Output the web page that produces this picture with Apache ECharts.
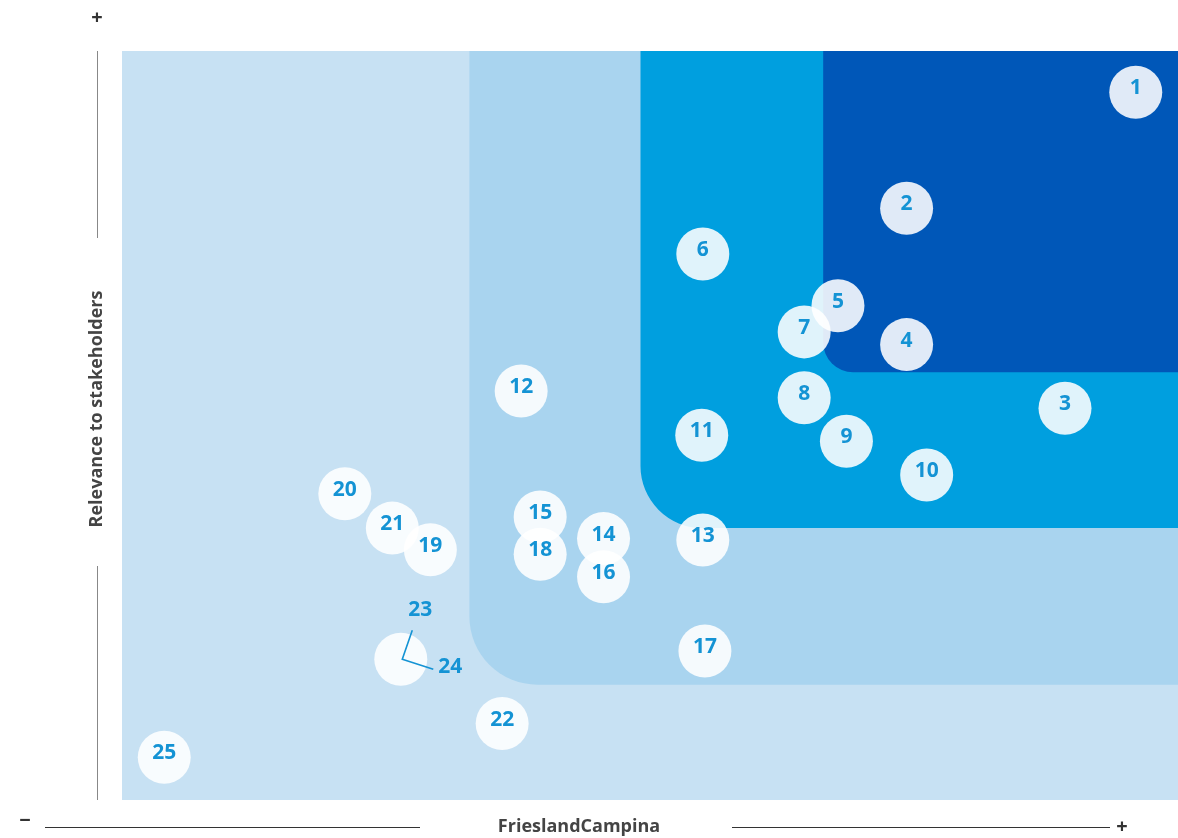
<!DOCTYPE html>
<html>
<head>
<meta charset="utf-8">
<script src="https://cdn.jsdelivr.net/npm/echarts@6/dist/echarts.min.js"></script>
<style>
html,body{margin:0;padding:0;background:#fff;}
#chart{width:1178px;height:838px;}
</style>
</head>
<body>
<div id="chart"></div>
<script>
// Topic numbers and positions (0-100 scales)
var topics = ['1','2','3','4','5','6','7','8','9','10','11','12','13','14','15','16','17','18','19','20','21','22','23/24','25'];
var impactX = [96.0,74.3,89.3,74.3,67.8,55.0,64.6,64.6,68.6,76.2,54.9,37.8,55.0,45.6,39.6,45.6,55.2,39.6,29.2,21.1,25.6,36.0,26.4,4.0];
var relevanceY = [94.5,79.0,52.3,60.8,66.0,72.9,62.5,53.7,47.9,43.4,48.7,54.6,34.7,34.9,37.8,29.8,19.9,32.8,33.4,40.9,36.3,10.2,18.8,5.7];

// Background zones: left edge and bottom edge (zones extend to top-right corner)
var zoneX0 = [0, 32.9, 49.1, 66.4];
var zoneY0 = [0, 15.4, 36.3, 57.1];
var zoneColors = ['#c7e1f3', '#a9d4ef', '#009fdf', '#0057b8'];
var zoneRadius = [0, 68, 62, 30];

// Shared-circle labels
var sharedLabels = ['23', '24'];

var chart = echarts.init(document.getElementById('chart'));
var numColor = '#1493d4';
var font = '"Open Sans", "Noto Sans", sans-serif';

var circleData = [];
for (var i = 0; i < topics.length; i++) {
  circleData.push({ name: topics[i], value: [impactX[i], relevanceY[i]], label: { show: topics[i] !== '23/24' } });
}
var zoneData = zoneX0.map(function (x, i) { return [x, zoneY0[i], i]; });
var sharedIdx = topics.indexOf('23/24');

var option = {
  animation: false,
  grid: { left: 122, right: 0, top: 51, bottom: 38 },
  xAxis: { type: 'value', min: 0, max: 100, show: false },
  yAxis: { type: 'value', min: 0, max: 100, show: false },
  series: [
    {
      type: 'custom',
      z: 1,
      silent: true,
      data: zoneData,
      renderItem: function (params, api) {
        var i = api.value(2);
        var p0 = api.coord([api.value(0), api.value(1)]);
        var p1 = api.coord([100, 100]);
        var r = zoneRadius[i];
        return {
          type: 'rect',
          shape: { x: p0[0], y: p1[1], width: p1[0] - p0[0], height: p0[1] - p1[1], r: [0, 0, 0, r] },
          style: { fill: zoneColors[i] }
        };
      }
    },
    {
      type: 'scatter',
      z: 3,
      symbol: 'circle',
      symbolSize: 53,
      silent: true,
      itemStyle: { color: 'rgba(255,255,255,0.88)', opacity: 1 },
      label: {
        show: true,
        position: 'inside',
        offset: [0, -4],
        formatter: '{b}',
        color: numColor,
        fontSize: 21,
        fontWeight: 'bold',
        fontFamily: font
      },
      data: circleData
    },
    {
      type: 'custom',
      z: 4,
      silent: true,
      data: [[impactX[sharedIdx], relevanceY[sharedIdx]]],
      renderItem: function (params, api) {
        var c = api.coord([api.value(0), api.value(1)]);
        var cx = c[0] + 1.5, cy = c[1];
        return {
          type: 'group',
          children: [
            { type: 'polyline', shape: { points: [[cx + 10, cy - 29], [cx, cy], [cx + 31, cy + 10]] },
              style: { stroke: numColor, lineWidth: 1.6, fill: null } },
            { type: 'text', style: { x: cx + 18, y: cy - 49, text: sharedLabels[0], fill: numColor,
              font: 'bold 21px ' + font, align: 'center', verticalAlign: 'middle' } },
            { type: 'text', style: { x: cx + 48, y: cy + 8, text: sharedLabels[1], fill: numColor,
              font: 'bold 21px ' + font, align: 'center', verticalAlign: 'middle' } }
          ]
        };
      }
    }
  ],
  graphic: [
    { type: 'text', x: 97, y: 18, style: { text: '+', font: 'bold 20px ' + font, fill: '#333', align: 'center', verticalAlign: 'middle' } },
    { type: 'line', shape: { x1: 97.5, y1: 51, x2: 97.5, y2: 238 }, style: { stroke: '#888', lineWidth: 1 } },
    { type: 'line', shape: { x1: 97.5, y1: 566, x2: 97.5, y2: 800 }, style: { stroke: '#888', lineWidth: 1 } },
    { type: 'text', x: 97, y: 409, rotation: Math.PI / 2,
      style: { text: 'Relevance to stakeholders', font: 'bold 18px ' + font, fill: '#444', align: 'center', verticalAlign: 'middle' } },
    { type: 'text', x: 25, y: 821, style: { text: '−', font: 'bold 20px ' + font, fill: '#333', align: 'center', verticalAlign: 'middle' } },
    { type: 'line', shape: { x1: 45, y1: 827.5, x2: 420, y2: 827.5 }, style: { stroke: '#333', lineWidth: 1 } },
    { type: 'text', x: 579, y: 827, style: { text: 'FrieslandCampina', font: 'bold 18px ' + font, fill: '#444', align: 'center', verticalAlign: 'middle' } },
    { type: 'line', shape: { x1: 732, y1: 827.5, x2: 1110, y2: 827.5 }, style: { stroke: '#333', lineWidth: 1 } },
    { type: 'text', x: 1122, y: 827, style: { text: '+', font: 'bold 20px ' + font, fill: '#333', align: 'center', verticalAlign: 'middle' } }
  ]
};
chart.setOption(option);
</script>
</body>
</html>
